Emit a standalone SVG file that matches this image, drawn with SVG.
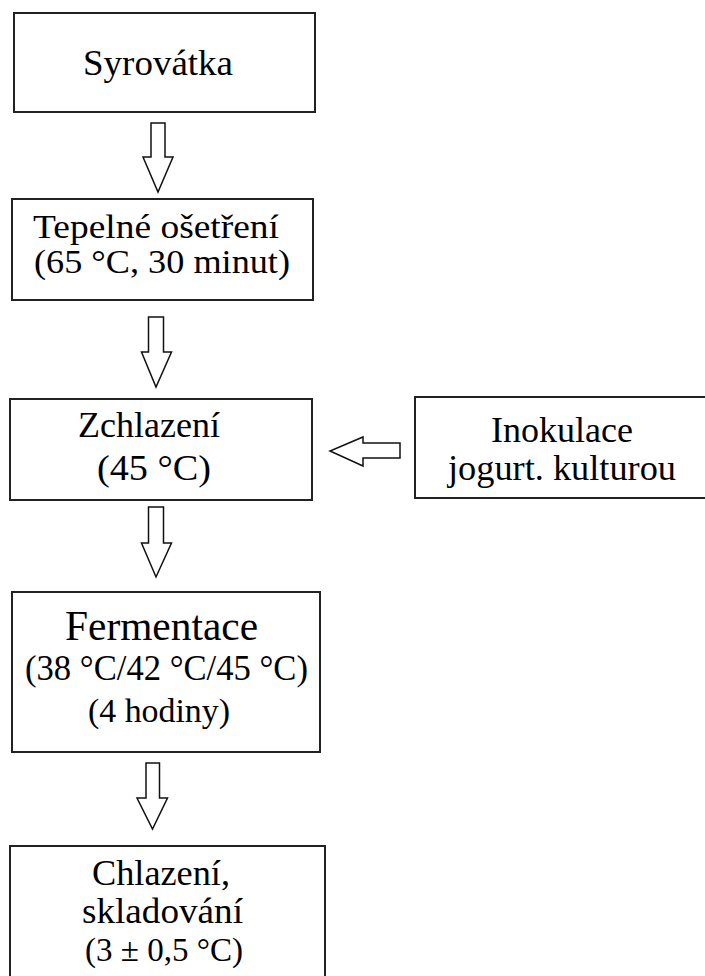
<svg xmlns="http://www.w3.org/2000/svg" width="705" height="976" viewBox="0 0 705 976">
<style>
.box{fill:#fff;stroke:#222;stroke-width:2}
.arr{fill:#fff;stroke:#111;stroke-width:1.5;stroke-linejoin:miter}
</style>
<rect width="705" height="976" fill="#fff"/>
<g id="connectors">
<polygon class="arr" points="151,123 165,123 165,157 173,157 158,192 143,157 151,157"/>
<polygon class="arr" points="148.5,317 163.5,317 163.5,352 171.5,352 156,387 141.5,352 148.5,352"/>
<polygon class="arr" points="148.5,507 163.5,507 163.5,543 171.5,543 156,577 141.5,543 148.5,543"/>
<polygon class="arr" points="146,763 159.5,763 159.5,798 167.5,798 152.5,829 137,798 146,798"/>
<polygon class="arr" points="400,443 400,458 363,458 363,466 330,451 363,437 363,443"/>
</g>
<g font-family="Liberation Serif" font-size="36" fill="#000">
<g id="syrovatka">
<rect class="box" x="14" y="13" width="301" height="99"/>
<text x="83" y="75" textLength="150" lengthAdjust="spacingAndGlyphs">Syrovátka</text>
</g>
<g id="tepelne">
<rect class="box" x="12" y="199" width="301" height="101"/>
<text x="33" y="238" font-size="34" textLength="246" lengthAdjust="spacingAndGlyphs">Tepelné ošetření</text>
<text x="34" y="273" font-size="34" textLength="256" lengthAdjust="spacingAndGlyphs">(65 °C, 30 minut)</text>
</g>
<g id="zchlazeni">
<rect class="box" x="10" y="399" width="302" height="101"/>
<text x="78" y="437" textLength="142" lengthAdjust="spacingAndGlyphs">Zchlazení</text>
<text x="97" y="480" textLength="114" lengthAdjust="spacingAndGlyphs">(45 °C)</text>
</g>
<g id="inokulace">
<rect class="box" x="415" y="397" width="300" height="101"/>
<text x="491" y="442" textLength="142" lengthAdjust="spacingAndGlyphs">Inokulace</text>
<text x="448" y="480" textLength="228" lengthAdjust="spacingAndGlyphs">jogurt. kulturou</text>
</g>
<g id="fermentace">
<rect class="box" x="12" y="592" width="308" height="160"/>
<text x="65" y="640" font-size="42" textLength="193" lengthAdjust="spacingAndGlyphs">Fermentace</text>
<text x="25" y="680" font-size="35" textLength="283" lengthAdjust="spacingAndGlyphs">(38 °C/42 °C/45 °C)</text>
<text x="88" y="722" font-size="34" textLength="142" lengthAdjust="spacingAndGlyphs">(4 hodiny)</text>
</g>
<g id="chlazeni">
<rect class="box" x="10" y="846" width="315" height="150"/>
<text x="92" y="885" textLength="138" lengthAdjust="spacingAndGlyphs">Chlazení,</text>
<text x="82" y="923" textLength="161" lengthAdjust="spacingAndGlyphs">skladování</text>
<text x="85" y="961" font-size="34" textLength="158" lengthAdjust="spacingAndGlyphs">(3 ± 0,5 °C)</text>
</g>
</g>
</svg>
